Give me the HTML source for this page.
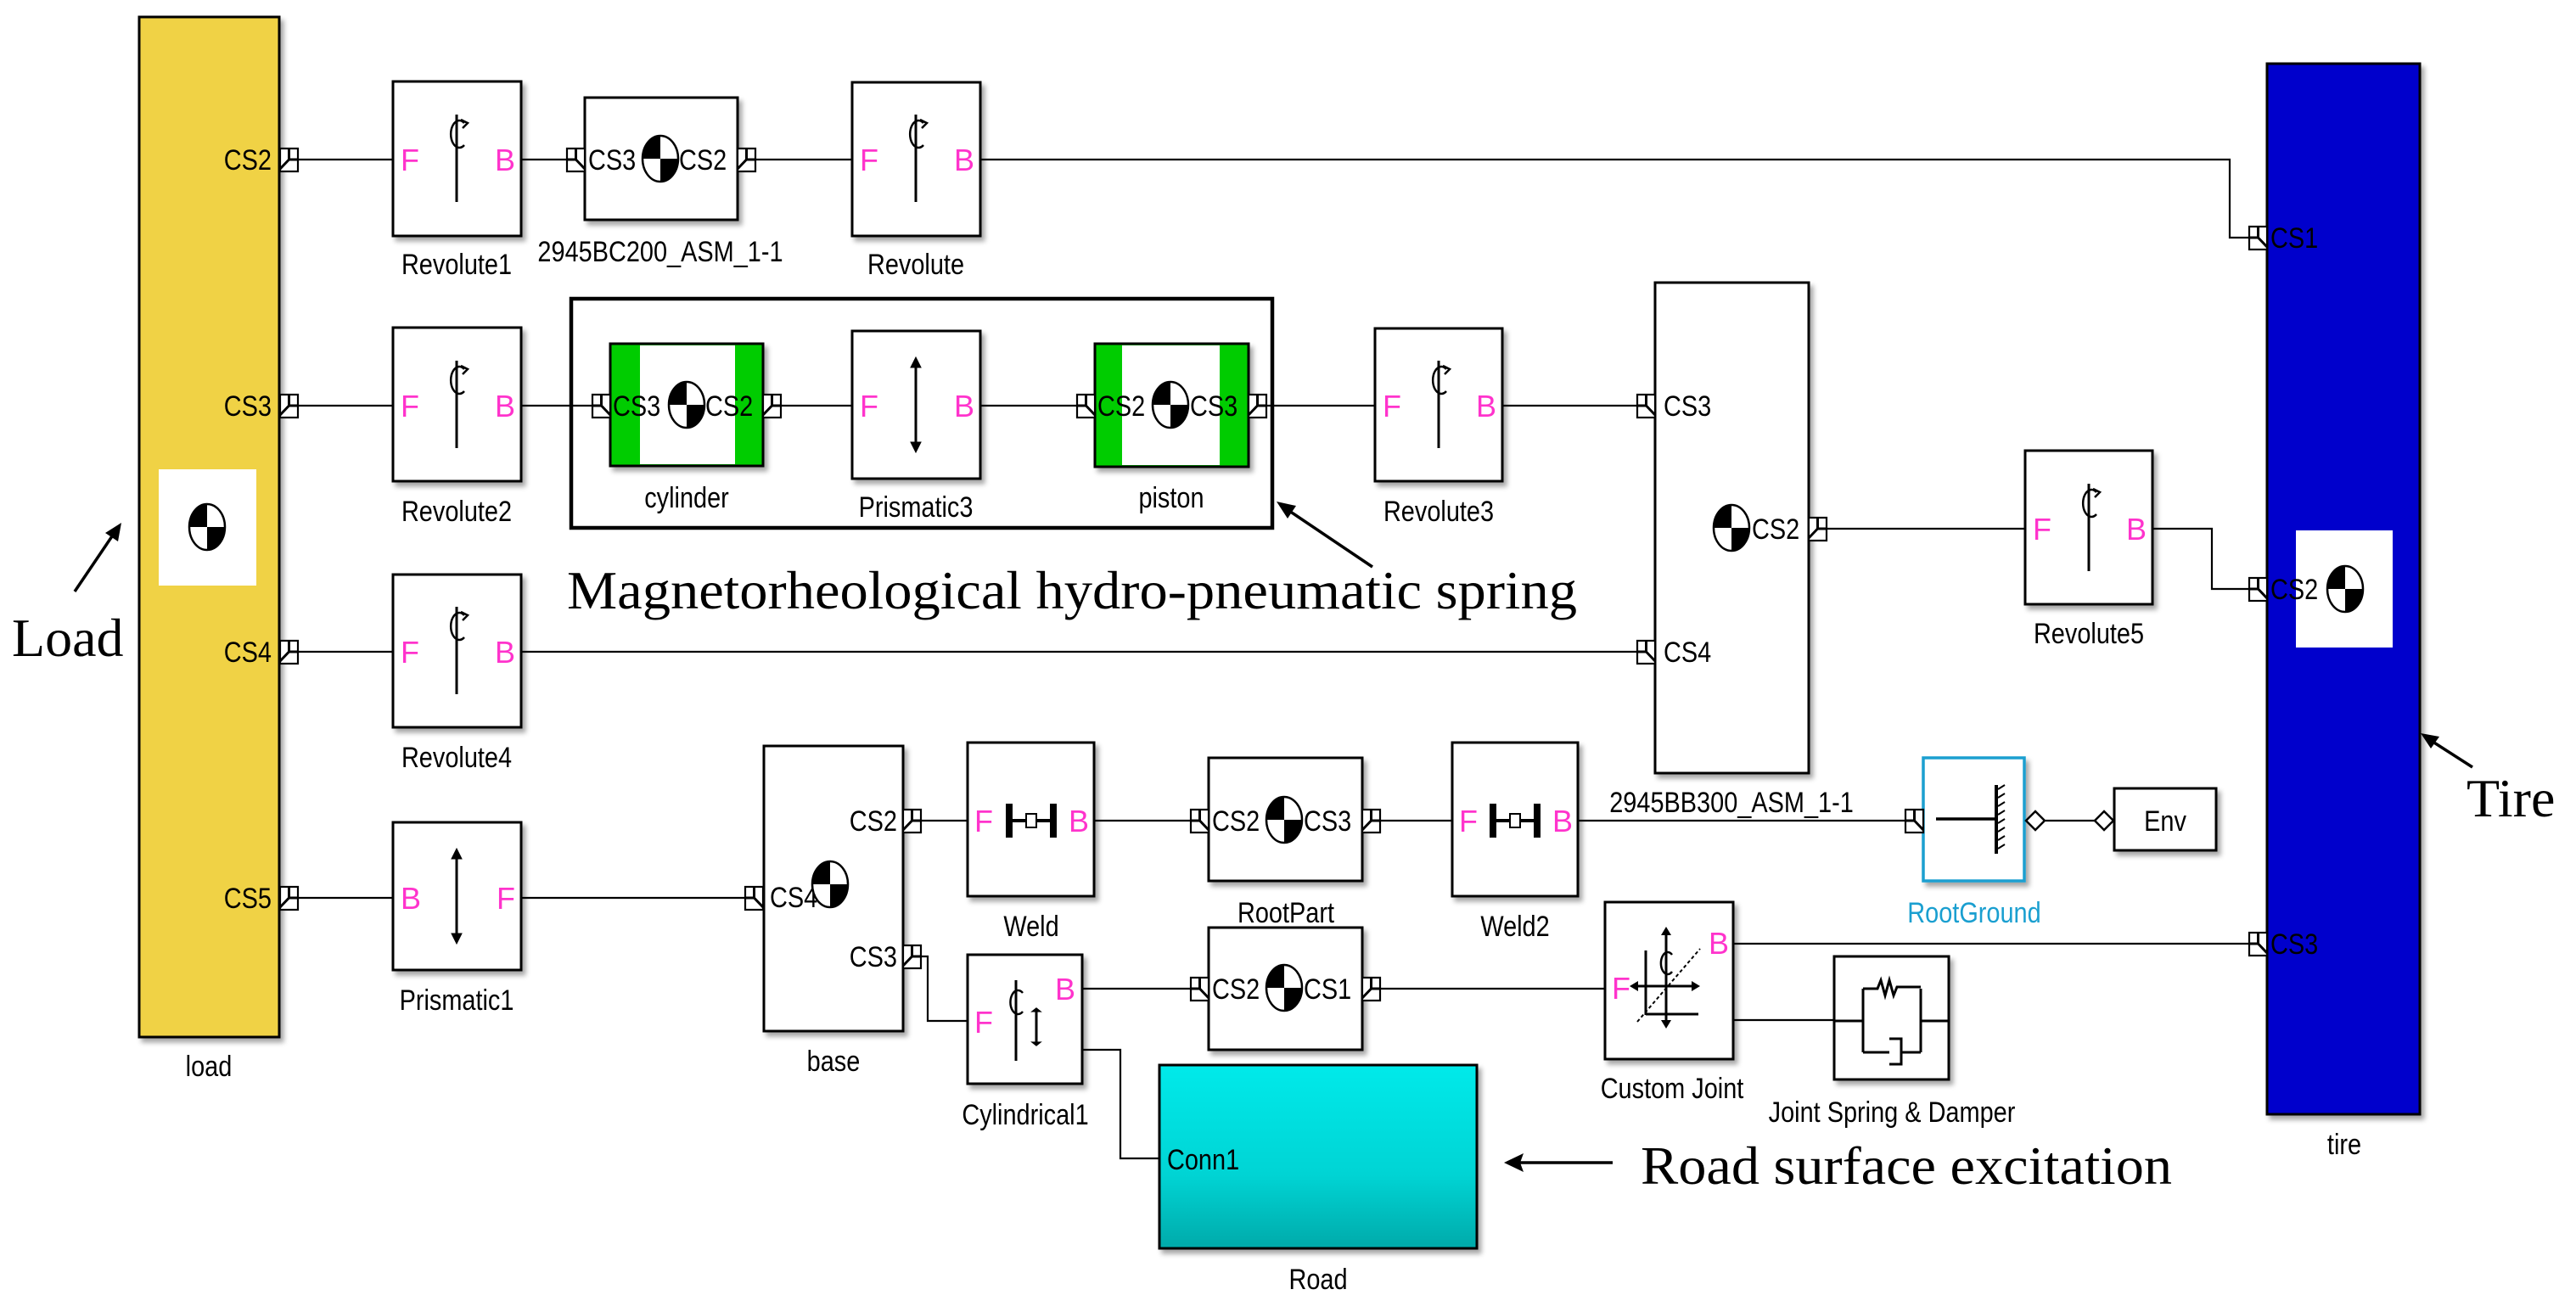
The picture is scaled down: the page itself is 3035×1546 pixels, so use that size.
<!DOCTYPE html>
<html><head><meta charset="utf-8"><style>
html,body{margin:0;padding:0;background:#fff;width:3035px;height:1546px;overflow:hidden}
svg{display:block}
.t{font-family:"Liberation Sans",Arial,sans-serif;font-size:34px;fill:#000}
.m{font-family:"Liberation Sans",Arial,sans-serif;font-size:36px;fill:#ff33cc}
.big{font-family:"Liberation Serif","Times New Roman",serif;font-size:64px;fill:#000}
.blk{fill:#fff;stroke:#000;stroke-width:3;filter:url(#sh)}
.ln{stroke:#000;stroke-width:2.2;fill:none}
</style></head><body>
<svg width="3035" height="1546" viewBox="0 0 3035 1546" xmlns="http://www.w3.org/2000/svg">
<defs>
<filter id="sh" x="-10%" y="-10%" width="130%" height="130%"><feDropShadow dx="4" dy="5" stdDeviation="3" flood-color="#000" flood-opacity="0.35"/></filter>
<symbol id="com" overflow="visible"><g>
<ellipse cx="0" cy="0" rx="21" ry="27" fill="#fff" stroke="#000" stroke-width="2.5"/>
<path d="M0,0 L-21,0 A21,27 0 0 1 0,-27 Z" fill="#000"/>
<path d="M0,0 L21,0 A21,27 0 0 1 0,27 Z" fill="#000"/>
</g></symbol>
<symbol id="pr" overflow="visible"><g fill="#fff" stroke="#000" stroke-width="2.2">
<rect x="0" y="-13" width="21" height="27"/><path d="M10.5,-13 V0 H21 M0,11 L10.5,0" fill="none" stroke-width="3"/></g></symbol>
<symbol id="pl" overflow="visible"><g fill="#fff" stroke="#000" stroke-width="2.2">
<rect x="0" y="-13" width="21" height="27"/><path d="M10.5,-13 V0 H0 M21,11 L10.5,0" fill="none" stroke-width="3"/></g></symbol>
<symbol id="rev" overflow="visible"><g>
<line x1="0" y1="-48" x2="0" y2="55" stroke="#000" stroke-width="3"/>
<path d="M9,-38 A10,16 0 1 0 9,-12" fill="none" stroke="#000" stroke-width="2.5"/>
<path d="M5,-42 L13,-38 L7,-32" fill="none" stroke="#000" stroke-width="2.5"/>
</g></symbol>
<symbol id="pri" overflow="visible"><g stroke="#000" stroke-width="3" fill="#000">
<line x1="0" y1="-52" x2="0" y2="52"/><path d="M-6,-44 L0,-56 L6,-44Z M-6,44 L0,56 L6,44Z" stroke-width="1"/></g></symbol>
<symbol id="weld" overflow="visible"><g fill="#000">
<rect x="-30" y="-20" width="8" height="40"/><rect x="22" y="-20" width="8" height="40"/>
<rect x="-22" y="-2" width="44" height="4"/><rect x="-6" y="-8" width="12" height="16" fill="#fff" stroke="#000" stroke-width="2"/></g></symbol>
<linearGradient id="road" x1="0" y1="0" x2="0" y2="1"><stop offset="0" stop-color="#00eaea"/><stop offset="0.6" stop-color="#00d4d4"/><stop offset="1" stop-color="#00aaaa"/></linearGradient>
</defs>

<!-- connectors -->
<g class="ln">
<path d="M351,188 H463"/><path d="M614,188 H689"/><path d="M891,188 H1004"/><path d="M1155,188 H2627 V280 H2650"/>
<path d="M351,478 H463"/><path d="M614,478 H697"/><path d="M921,478 H1004"/><path d="M1155,478 H1268"/><path d="M1493,478 H1620"/><path d="M1770,478 H1928"/>
<path d="M351,768 H463"/><path d="M614,768 H1928"/>
<path d="M351,1058 H463"/><path d="M614,1058 H877"/>
<path d="M2153,623 H2386"/><path d="M2536,623 H2606 V694 H2650"/>
<path d="M1085,967 H1140"/><path d="M1289,967 H1403"/><path d="M1627,967 H1711"/><path d="M1859,967 H2245"/>
<path d="M2410,967 H2468"/>
<path d="M1085,1127 H1093 V1203 H1140"/>
<path d="M1275,1165 H1403"/><path d="M1627,1165 H1891"/>
<path d="M1275,1237 H1320 V1365 H1366"/>
<path d="M2042,1112 H2650"/>
<path d="M2042,1202 H2161"/>
</g>

<!-- load -->
<rect x="164" y="20" width="165" height="1202" fill="#f0d245" stroke="#000" stroke-width="3" filter="url(#sh)"/>
<rect x="187" y="553" width="115" height="137" fill="#fff"/>
<use href="#com" x="244" y="621"/>
<text class="t" transform="translate(320,200) scale(.85 1)" text-anchor="end">CS2</text>
<text class="t" transform="translate(320,490) scale(.85 1)" text-anchor="end">CS3</text>
<text class="t" transform="translate(320,780) scale(.85 1)" text-anchor="end">CS4</text>
<text class="t" transform="translate(320,1070) scale(.85 1)" text-anchor="end">CS5</text>
<use href="#pr" x="330" y="188"/><use href="#pr" x="330" y="478"/><use href="#pr" x="330" y="768"/><use href="#pr" x="330" y="1058"/>
<text class="t" transform="translate(246,1268) scale(.85 1)" text-anchor="middle">load</text>

<!-- tire -->
<rect x="2671" y="75" width="180" height="1238" fill="#0000cc" stroke="#000" stroke-width="3" filter="url(#sh)"/>
<rect x="2705" y="625" width="114" height="138" fill="#fff"/>
<use href="#com" x="2763" y="694"/>
<use href="#pl" x="2650" y="280"/><use href="#pl" x="2650" y="694"/><use href="#pl" x="2650" y="1112"/>
<text class="t" transform="translate(2675,292) scale(.85 1)">CS1</text>
<text class="t" transform="translate(2675,706) scale(.85 1)">CS2</text>
<text class="t" transform="translate(2675,1124) scale(.85 1)">CS3</text>
<text class="t" transform="translate(2762,1360) scale(.85 1)" text-anchor="middle">tire</text>

<!-- Revolute blocks -->
<g>
<rect class="blk" x="463" y="96" width="151" height="182"/><use href="#rev" x="538" y="183"/>
<text class="m" x="472" y="201">F</text><text class="m" x="583" y="201">B</text>
<text class="t" transform="translate(538,323) scale(.85 1)" text-anchor="middle">Revolute1</text>

<rect class="blk" x="1004" y="97" width="151" height="181"/><use href="#rev" x="1079" y="183"/>
<text class="m" x="1013" y="201">F</text><text class="m" x="1124" y="201">B</text>
<text class="t" transform="translate(1079,323) scale(.85 1)" text-anchor="middle">Revolute</text>

<rect class="blk" x="463" y="386" width="151" height="181"/><use href="#rev" x="538" y="473"/>
<text class="m" x="472" y="491">F</text><text class="m" x="583" y="491">B</text>
<text class="t" transform="translate(538,614) scale(.85 1)" text-anchor="middle">Revolute2</text>

<rect class="blk" x="463" y="677" width="151" height="180"/><use href="#rev" x="538" y="763"/>
<text class="m" x="472" y="781">F</text><text class="m" x="583" y="781">B</text>
<text class="t" transform="translate(538,904) scale(.85 1)" text-anchor="middle">Revolute4</text>

<rect class="blk" x="1620" y="387" width="150" height="180"/><use href="#rev" x="1695" y="473"/>
<text class="m" x="1629" y="491">F</text><text class="m" x="1739" y="491">B</text>
<text class="t" transform="translate(1695,614) scale(.85 1)" text-anchor="middle">Revolute3</text>

<rect class="blk" x="2386" y="531" width="150" height="181"/><use href="#rev" x="2461" y="618"/>
<text class="m" x="2395" y="636">F</text><text class="m" x="2505" y="636">B</text>
<text class="t" transform="translate(2461,758) scale(.85 1)" text-anchor="middle">Revolute5</text>
</g>

<!-- Prismatic blocks -->
<rect class="blk" x="463" y="969" width="151" height="174"/><use href="#pri" x="538" y="1056"/>
<text class="m" x="472" y="1071">B</text><text class="m" x="585" y="1071">F</text>
<text class="t" transform="translate(538,1190) scale(.85 1)" text-anchor="middle">Prismatic1</text>

<rect class="blk" x="1004" y="390" width="151" height="174"/><use href="#pri" x="1079" y="477"/>
<text class="m" x="1013" y="491">F</text><text class="m" x="1124" y="491">B</text>
<text class="t" transform="translate(1079,609) scale(.85 1)" text-anchor="middle">Prismatic3</text>

<!-- 2945BC200 -->
<rect class="blk" x="689" y="115" width="180" height="144"/>
<use href="#pl" x="668" y="188"/><use href="#pr" x="869" y="188"/>
<text class="t" transform="translate(693,200) scale(.85 1)">CS3</text>
<use href="#com" x="778" y="187"/>
<text class="t" transform="translate(800,200) scale(.85 1)">CS2</text>
<text class="t" transform="translate(778,308) scale(.85 1)" text-anchor="middle">2945BC200_ASM_1-1</text>

<!-- frame -->
<rect x="673" y="352" width="826" height="270" fill="none" stroke="#000" stroke-width="4.5"/>

<!-- cylinder -->
<rect x="719" y="405" width="180" height="144" fill="#00cc00" stroke="#000" stroke-width="3" filter="url(#sh)"/>
<rect x="754" y="407" width="112" height="140" fill="#fff"/>
<use href="#pl" x="698" y="478"/><use href="#pr" x="899" y="478"/>
<text class="t" transform="translate(722,490) scale(.85 1)">CS3</text>
<use href="#com" x="809" y="477"/>
<text class="t" transform="translate(831,490) scale(.85 1)">CS2</text>
<text class="t" transform="translate(809,598) scale(.85 1)" text-anchor="middle">cylinder</text>

<!-- piston -->
<rect x="1290" y="405" width="181" height="145" fill="#00cc00" stroke="#000" stroke-width="3" filter="url(#sh)"/>
<rect x="1322" y="407" width="115" height="141" fill="#fff"/>
<use href="#pl" x="1269" y="478"/><use href="#pr" x="1471" y="478"/>
<text class="t" transform="translate(1293,490) scale(.85 1)">CS2</text>
<use href="#com" x="1379" y="477"/>
<text class="t" transform="translate(1402,490) scale(.85 1)">CS3</text>
<text class="t" transform="translate(1380,598) scale(.85 1)" text-anchor="middle">piston</text>

<!-- 2945BB300 big box -->
<rect class="blk" x="1950" y="333" width="181" height="578"/>
<use href="#pl" x="1929" y="478"/><use href="#pl" x="1929" y="768"/><use href="#pr" x="2131" y="623"/>
<text class="t" transform="translate(1960,490) scale(.85 1)">CS3</text>
<text class="t" transform="translate(1960,780) scale(.85 1)">CS4</text>
<use href="#com" x="2040" y="622"/>
<text class="t" transform="translate(2064,635) scale(.85 1)">CS2</text>
<text class="t" transform="translate(2040,957) scale(.85 1)" text-anchor="middle">2945BB300_ASM_1-1</text>

<!-- base -->
<rect class="blk" x="900" y="879" width="164" height="336"/>
<use href="#pl" x="878" y="1058"/><use href="#pr" x="1064" y="967"/><use href="#pr" x="1064" y="1127"/>
<text class="t" transform="translate(1057,979) scale(.85 1)" text-anchor="end">CS2</text>
<text class="t" transform="translate(1057,1139) scale(.85 1)" text-anchor="end">CS3</text>
<text class="t" transform="translate(907,1069) scale(.85 1)">CS4</text>
<use href="#com" x="978" y="1042"/>
<text class="t" transform="translate(982,1262) scale(.85 1)" text-anchor="middle">base</text>

<!-- Weld -->
<rect class="blk" x="1140" y="875" width="149" height="181"/><use href="#weld" x="1215" y="967"/>
<text class="m" x="1148" y="980">F</text><text class="m" x="1259" y="980">B</text>
<text class="t" transform="translate(1215,1103) scale(.85 1)" text-anchor="middle">Weld</text>
<rect class="blk" x="1711" y="875" width="148" height="181"/><use href="#weld" x="1785" y="967"/>
<text class="m" x="1719" y="980">F</text><text class="m" x="1829" y="980">B</text>
<text class="t" transform="translate(1785,1103) scale(.85 1)" text-anchor="middle">Weld2</text>

<!-- RootPart -->
<rect class="blk" x="1424" y="893" width="181" height="145"/>
<use href="#pl" x="1403" y="967"/><use href="#pr" x="1605" y="967"/>
<text class="t" transform="translate(1428,979) scale(.85 1)">CS2</text>
<use href="#com" x="1513" y="966"/>
<text class="t" transform="translate(1536,979) scale(.85 1)">CS3</text>
<text class="t" transform="translate(1515,1087) scale(.85 1)" text-anchor="middle">RootPart</text>

<!-- CS2 CS1 -->
<rect class="blk" x="1424" y="1093" width="181" height="144"/>
<use href="#pl" x="1403" y="1165"/><use href="#pr" x="1605" y="1165"/>
<text class="t" transform="translate(1428,1177) scale(.85 1)">CS2</text>
<use href="#com" x="1513" y="1164"/>
<text class="t" transform="translate(1536,1177) scale(.85 1)">CS1</text>

<!-- Cylindrical1 -->
<rect class="blk" x="1140" y="1125" width="135" height="152"/>
<line x1="1197" y1="1155" x2="1197" y2="1250" stroke="#000" stroke-width="3"/>
<path d="M1205,1170 A9,14 0 1 0 1205,1192" fill="none" stroke="#000" stroke-width="2.5"/>
<use href="#pri" x="1221" y="1210" transform="translate(1221,1210) scale(1,0.4) translate(-1221,-1210)"/>
<text class="m" x="1148" y="1217">F</text><text class="m" x="1243" y="1178">B</text>
<text class="t" transform="translate(1208,1325) scale(.85 1)" text-anchor="middle">Cylindrical1</text>

<!-- Road -->
<rect x="1366" y="1255" width="374" height="216" fill="url(#road)" stroke="#000" stroke-width="3" filter="url(#sh)"/>
<text class="t" transform="translate(1375,1378) scale(.85 1)">Conn1</text>
<text class="t" transform="translate(1553,1519) scale(.85 1)" text-anchor="middle">Road</text>

<!-- RootGround -->
<rect x="2266" y="893" width="119" height="145" fill="#fff" stroke="#1a9fd0" stroke-width="3.5" filter="url(#sh)"/>
<use href="#pl" x="2245" y="967"/>
<line x1="2281" y1="965" x2="2352" y2="965" stroke="#000" stroke-width="3.5"/>
<line x1="2352" y1="925" x2="2352" y2="1006" stroke="#000" stroke-width="4"/>
<g stroke="#000" stroke-width="2"><path d="M2354,930 l8,-5 M2354,940 l8,-5 M2354,950 l8,-5 M2354,960 l8,-5 M2354,970 l8,-5 M2354,980 l8,-5 M2354,990 l8,-5 M2354,1000 l8,-5"/></g>
<path d="M2387,967 l11,-11 l11,11 l-11,11z M2468,967 l11,-11 l11,11 l-11,11z" fill="#fff" stroke="#000" stroke-width="2.5"/>
<text x="2326" y="1087" transform="translate(2326,0) scale(.85 1) translate(-2326,0)" text-anchor="middle" style="font-family:'Liberation Sans',sans-serif;font-size:34px;fill:#1a9fd0">RootGround</text>

<!-- Env -->
<rect class="blk" x="2491" y="929" width="120" height="73"/>
<text class="t" transform="translate(2551,979) scale(.85 1)" text-anchor="middle">Env</text>

<!-- Custom joint -->
<rect class="blk" x="1891" y="1063" width="151" height="185"/>
<g stroke="#000" stroke-width="3" fill="none">
<line x1="1963" y1="1098" x2="1963" y2="1206"/><line x1="1926" y1="1162" x2="1997" y2="1162"/>
<line x1="1939" y1="1120" x2="1939" y2="1196"/><line x1="1939" y1="1195" x2="2001" y2="1195"/>
<path d="M1929,1204 L2003,1118" stroke-dasharray="4,3" stroke-width="2"/>
<path d="M1970,1125 A8,13 0 1 0 1970,1145" stroke-width="2.5"/>
</g>
<g fill="#000"><path d="M1957,1102 l6,-10 l6,10z M1957,1202 l6,10 l6,-10z M1930,1156 l-10,6 l10,6z M1993,1156 l10,6 l-10,6z"/></g>
<text class="m" x="1899" y="1177">F</text><text class="m" x="2013" y="1124">B</text>
<text class="t" transform="translate(1970,1294) scale(.85 1)" text-anchor="middle">Custom Joint</text>

<!-- Spring & Damper -->
<rect class="blk" x="2161" y="1127" width="135" height="145"/>
<g stroke="#000" stroke-width="3" fill="none">
<path d="M2162,1203 H2195 M2263,1203 H2295"/>
<path d="M2195,1165 V1240 M2263,1165 V1240"/>
<path d="M2195,1165 H2212 l4,-10 l5,18 l5,-18 l5,18 l4,-10 H2263"/>
<path d="M2195,1240 H2226 M2240,1240 H2263"/>
<path d="M2226,1224 H2240 V1254 H2226"/>
</g>
<text class="t" transform="translate(2229,1322) scale(.85 1)" text-anchor="middle">Joint Spring &amp; Damper</text>

<!-- annotations -->
<text class="big" x="14" y="773">Load</text>
<line x1="88" y1="697" x2="136" y2="626" stroke="#000" stroke-width="3.5"/>
<path d="M143,616 L124,628 L139,638Z" fill="#000"/>

<text class="big" x="668" y="717" textLength="1190" lengthAdjust="spacingAndGlyphs">Magnetorheological hydro-pneumatic spring</text>
<line x1="1617" y1="668" x2="1513" y2="598" stroke="#000" stroke-width="3.5"/>
<path d="M1504,591 L1527,596 L1517,611Z" fill="#000"/>

<text class="big" x="2906" y="962">Tire</text>
<line x1="2913" y1="904" x2="2860" y2="870" stroke="#000" stroke-width="3.5"/>
<path d="M2852,864 L2874,868 L2864,882Z" fill="#000"/>

<text class="big" x="1933" y="1395" textLength="626" lengthAdjust="spacingAndGlyphs">Road surface excitation</text>
<line x1="1900" y1="1370" x2="1785" y2="1370" stroke="#000" stroke-width="3.5"/>
<path d="M1772,1370 L1795,1359 L1791,1370 L1795,1381Z" fill="#000"/>
</svg>
</body></html>
